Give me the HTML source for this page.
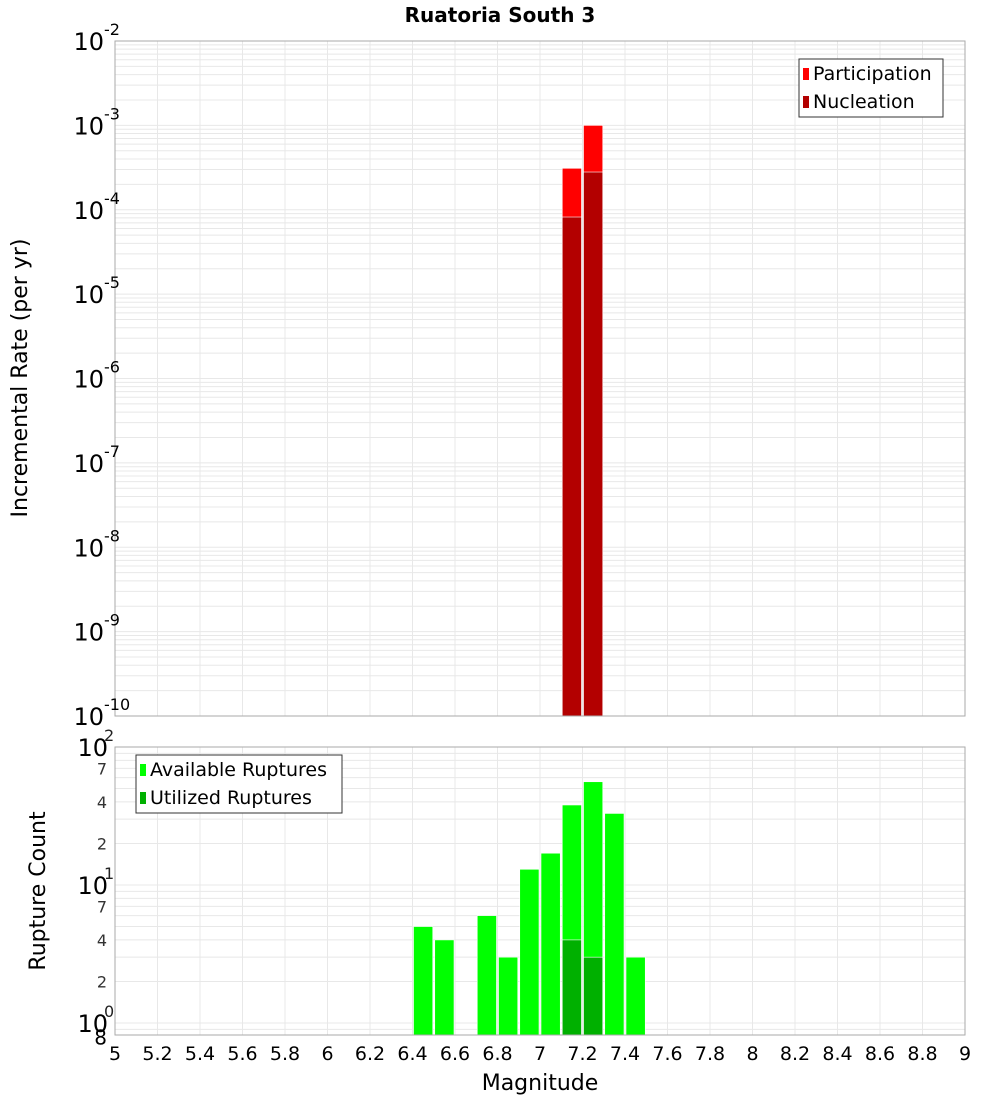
<!DOCTYPE html>
<html><head><meta charset="utf-8"><style>
body{margin:0;background:#fff;}
svg{font-family:"DejaVu Sans","Liberation Sans",sans-serif;}
</style></head><body>
<svg id="c" width="1000" height="1100" xmlns="http://www.w3.org/2000/svg">
<text x="500" y="22" text-anchor="middle" font-size="20" font-weight="bold">Ruatoria South 3</text>
<text transform="translate(27,378) rotate(-90)" text-anchor="middle" font-size="22">Incremental Rate (per yr)</text>
<text transform="translate(45,891) rotate(-90)" text-anchor="middle" font-size="22">Rupture Count</text>
<text x="540" y="1090" text-anchor="middle" font-size="22">Magnitude</text>
<g id="g"></g>
</svg>
<script>
const mags=[6.45,6.55,6.75,6.85,6.95,7.05,7.15,7.25,7.35,7.45];
const available=[5,4,6,3,13,17,38,56,33,3];
const utilMags=[7.15,7.25];
const utilized=[4,3];
const rateMags=[7.15,7.25];
const participation=[3.1e-4,1.0e-3];
const nucleation=[8.2e-5,2.8e-4];
const xTicks=[5,5.2,5.4,5.6,5.8,6,6.2,6.4,6.6,6.8,7,7.2,7.4,7.6,7.8,8,8.2,8.4,8.6,8.8,9];

const NS="http://www.w3.org/2000/svg";
const g=document.getElementById('g');
function el(t,a,p){const e=document.createElementNS(NS,t);for(const k in a)e.setAttribute(k,a[k]);(p||g).appendChild(e);return e;}
const X0=115,X1=965;
const x=m=>X0+(m-5)/4*(X1-X0);
// top axis
const T0=41,T1=716;
const yT=v=>T0+(-2-Math.log10(v))/8*(T1-T0);
// bottom axis
const B0=747,B1=1035,BPD=138;
const yB=v=>B0+(2-Math.log10(v))*BPD;

function grid(top,bot,yf,decMin,decMax,minv){
  for(let d=decMin;d<decMax;d++)for(let k=1;k<10;k++){const v=k*Math.pow(10,d);if(v<minv)continue;const yy=yf(v);if(yy<top-0.5||yy>bot)continue;
    const l=el('line',{x1:X0,x2:X1,y1:yy,y2:yy,stroke:'#e8e8e8','stroke-width':1});
    
    }
  xTicks.forEach(t=>{const l=el('line',{x1:x(t),x2:x(t),y1:top,y2:bot,stroke:'#e8e8e8','stroke-width':1});
    
    });
}
grid(T0,T1,yT,-10,-2,1e-10);
grid(B0,B1,yB,-1,2,0.8);

function bar(m,v,yf,base,col,name){
  const y=yf(v);const r=el('rect',{x:x(m-0.05)+1,y:y,width:x(0.1+5)-X0-2,height:base-y,fill:col,stroke:'#fff','stroke-width':0.6});
  
  
}
rateMags.forEach((m,i)=>bar(m,participation[i],yT,T1,'#ff0000','participation-bar'));
rateMags.forEach((m,i)=>bar(m,nucleation[i],yT,T1,'#b30000','nucleation-bar'));
mags.forEach((m,i)=>bar(m,available[i],yB,B1,'#00ff00','available-bar'));
utilMags.forEach((m,i)=>bar(m,utilized[i],yB,B1,'#00b000','utilized-bar'));

// frames
[[T0,T1,'top-plot-frame'],[B0,B1,'bottom-plot-frame']].forEach(f=>{const r=el('rect',{x:X0,y:f[0],width:X1-X0,height:f[1]-f[0],fill:'none',stroke:'#aaa','stroke-width':1});
  
  });

// top y labels
for(let d=-2;d>=-10;d--){const yy=yT(Math.pow(10,d));
  const t=el('text',{x:104,y:yy+9,'text-anchor':'end','font-size':24});
  
  
  t.textContent='10';
  const s=el('text',{x:104,y:yy-6,'font-size':16});
  
  
  s.textContent=String(d);}
// bottom y labels
[2,1,0].forEach(d=>{const yy=yB(Math.pow(10,d));
  const t=el('text',{x:108,y:yy+9,'text-anchor':'end','font-size':24});
  
  
  t.textContent='10';
  const s=el('text',{x:104,y:yy-6,'font-size':16,fill:'#222'});
  
  
  s.textContent=String(d);});
[[70,'7'],[40,'4'],[20,'2'],[7,'7'],[4,'4'],[2,'2'],[0.8,'8']].forEach(p=>{const yy=yB(p[0]);
  const t=el('text',{x:107,y:yy+6,'text-anchor':'end','font-size':16,fill:p[1]==='8'?'#000':'#333'});
  if(p[1]==='8'){t.setAttribute('font-size','20');t.setAttribute('y',yy+8);}
  
  
  t.textContent=p[1];});
// x labels
xTicks.forEach(v=>{const t=el('text',{x:x(v),y:1060,'text-anchor':'middle','font-size':19});
  
  
  t.textContent=String(v);});

// legends
function legend(x0,y0,w,items,name){
  const lg=el('g',{});
  
  
  el('rect',{x:x0,y:y0,width:w,height:58,fill:'#fff',stroke:'#333','stroke-width':1},lg);
  items.forEach((it,i)=>{el('rect',{x:x0+4,y:y0+9+i*28,width:6,height:12,fill:it[1]},lg);
    const t=el('text',{x:x0+14,y:y0+21+i*28,'font-size':19},lg);t.textContent=it[0];});
}
legend(799,59,144,[['Participation','#ff0000'],['Nucleation','#b30000']],'top-legend');
legend(136,755,206,[['Available Ruptures','#00ff00'],['Utilized Ruptures','#00b000']],'bottom-legend');
</script>
</body></html>
